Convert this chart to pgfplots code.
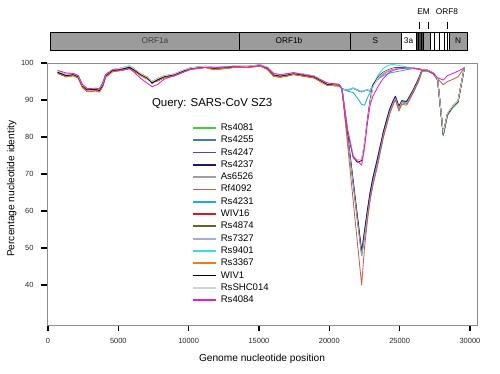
\documentclass[border=0pt]{standalone}
\usepackage{pgfplots}
\pgfplotsset{compat=1.18}
\usepackage{pgfplotstable}
\usepackage{fontspec}
\setmainfont{Liberation Sans}

\definecolor{cA}{RGB}{60,210,60}     % Rs4081
\definecolor{cB}{RGB}{70,125,165}    % Rs4255
\definecolor{cC}{RGB}{105,60,165}    % Rs4247
\definecolor{cD}{RGB}{25,25,120}     % Rs4237
\definecolor{cE}{RGB}{160,160,160}   % As6526
\definecolor{cF}{RGB}{200,95,85}     % Rf4092
\definecolor{cG}{RGB}{30,170,230}    % Rs4231
\definecolor{cH}{RGB}{215,25,25}     % WIV16
\definecolor{cI}{RGB}{95,105,45}     % Rs4874
\definecolor{cJ}{RGB}{160,175,210}   % Rs7327
\definecolor{cK}{RGB}{60,220,230}    % Rs9401
\definecolor{cL}{RGB}{240,120,30}    % Rs3367
\definecolor{cM}{RGB}{0,0,0}         % WIV1
\definecolor{cN}{RGB}{210,210,210}   % RsSHC014
\definecolor{cO}{RGB}{225,35,205}    % Rs4084
\definecolor{barGray}{RGB}{155,155,155}

\pgfplotstableread{
x e1 e2 e3 e4
700 97.5 98.0 97.2 97.8
1300 96.6 97.3 96.3 96.9
1800 96.9 97.2 96.6 97.1
2150 96.3 96.6 96.0 96.5
2450 93.8 94.2 93.4 94.0
2800 92.8 93.1 92.3 93.0
3400 92.9 93.2 92.5 93.1
3650 92.6 93.0 92.2 92.9
3880 94.0 94.6 93.6 94.3
4100 96.6 96.9 96.2 96.8
4600 98.0 98.2 97.7 98.2
5200 98.3 98.1 98.0 98.6
5800 98.8 98.5 98.5 99.2
6100 98.2 97.6 97.9 98.5
6600 96.9 95.8 96.6 97.1
7100 95.9 94.4 95.6 96.1
7400 94.6 93.6 94.9 95.0
7800 95.5 94.2 95.2 95.8
8250 96.3 95.6 96.0 96.5
8950 96.8 96.6 96.5 97.0
9650 97.9 97.6 97.6 98.1
10150 98.6 98.4 98.3 98.7
11200 99.0 98.8 98.8 99.1
11800 98.6 98.7 98.2 98.8
12500 98.8 98.9 98.5 98.9
13200 99.0 99.1 98.8 99.1
14200 99.0 98.9 98.8 99.1
15100 99.4 99.3 99.2 99.5
15600 98.6 98.7 98.3 98.8
16050 96.8 97.2 96.4 97.0
16500 96.5 96.9 96.2 96.7
17000 96.8 97.1 96.5 97.0
17450 97.2 97.4 96.9 97.3
17950 96.9 97.0 96.6 97.1
18900 96.3 96.4 96.0 96.5
19850 94.3 94.6 94.0 94.5
20300 94.2 94.4 93.9 94.3
20700 94.1 94.2 93.8 94.2
20900 93.0 93.0 93.0 93.0
}\early

\pgfplotstableread{
x C1 C2 C3 R B B2 M A A2 A3
20900 93.0 93.0 93.0 93.0 93.0 93.0 93.0 93.0 93.0 93.0
21300 80.1 80.6 79.8 77.9 81.5 82.0 82.0 92.6 92.8 92.4
21700 67.3 68.0 67.0 62.7 74.5 75.0 74.6 93.2 93.3 92.0
22000 57.6 58.5 57.3 51.3 73.2 73.8 73.5 92.6 92.8 90.5
22300 48.0 49.0 48.0 40.0 73.6 74.0 72.4 92.2 92.4 88.8
22500 53.0 54.5 52.8 50.0 78.0 78.5 77.0 92.5 92.6 88.6
22700 58.5 60.0 58.0 57.0 84.5 84.0 83.5 92.7 92.8 90.5
22900 63.5 65.0 63.0 63.0 90.0 89.5 88.6 92.4 92.6 92.0
23100 67.5 69.0 67.2 67.0 94.0 93.6 91.0 93.9 94.2 93.9
23400 72.4 73.8 72.0 71.8 95.8 95.6 93.2 95.6 96.2 95.4
23600 76.0 77.2 75.6 75.5 96.8 96.6 94.5 96.3 97.4 96.0
23850 80.5 81.5 80.2 80.0 97.5 97.4 95.9 97.0 98.6 96.6
24100 84.0 85.0 83.6 83.5 98.0 97.9 96.8 97.6 99.2 97.0
24300 86.8 87.6 86.5 86.3 98.3 98.2 97.6 98.0 99.5 97.3
24550 89.3 89.9 89.0 88.8 98.6 98.5 98.0 98.4 99.6 97.5
24700 90.5 91.0 90.2 90.0 98.7 98.6 98.2 98.6 99.5 97.6
24950 87.8 88.3 87.5 87.0 98.7 98.6 98.4 98.7 99.3 97.8
25150 89.5 89.8 89.2 88.8 98.7 98.6 98.5 98.7 99.2 97.9
25500 89.1 89.6 88.9 88.6 98.6 98.5 98.6 98.6 98.9 98.2
25950 92.2 92.6 91.9 91.8 98.6 98.5 98.6 98.6 98.6 98.5
26350 95.4 95.8 95.1 95.0 98.4 98.4 98.4 98.4 98.5 98.4
26600 98.1 98.2 97.9 97.8 98.1 98.2 98.1 98.1 98.2 98.1
27000 98.0 98.0 97.8 97.8 98.0 98.0 97.9 98.0 98.0 98.0
27400 97.2 97.3 97.0 97.0 97.2 97.3 97.2 97.2 97.3 97.2
27700 95.5 95.6 95.3 95.8 95.5 95.6 96.0 95.5 95.6 95.5
28100 80.5 80.8 80.3 94.1 80.8 81.0 95.4 80.6 80.7 80.6
28400 86.0 86.3 85.8 95.0 86.2 86.4 96.6 86.1 86.2 86.1
28800 88.2 88.4 88.0 95.6 88.4 88.5 97.2 88.3 88.4 88.3
29150 89.5 89.7 89.3 96.3 89.6 89.8 97.8 89.5 89.6 89.5
29600 98.7 98.7 98.7 98.7 98.7 98.7 98.7 98.7 98.7 98.7
}\late

\begin{document}
\begin{tikzpicture}
\path[use as bounding box] (0bp,0bp) rectangle (500bp,374bp);
% genome map
\begin{scope}[line width=0.6pt]
\fill[barGray] (50bp,324bp) rectangle (467bp,342bp);
\fill[white] (401bp,324bp) rectangle (416bp,342bp);
\fill[white] (430bp,324bp) rectangle (449bp,342bp);
\fill[black!70] (416bp,324bp) rectangle (423bp,342bp);
\draw (50bp,324bp) rectangle (467bp,342bp);
\foreach \xx in {239,350,401,416,423,430,434,439,444,447,449}{\draw (\xx bp,324bp) -- (\xx bp,342bp);}
\draw[line width=1.2pt] (418.5bp,324bp) -- (418.5bp,342bp);
\draw[line width=1.2pt] (421.5bp,324bp) -- (421.5bp,342bp);
\foreach \xx in {419,428,447}{\draw[line width=0.7pt] (\xx bp,345bp) -- (\xx bp,352bp);}
\end{scope}
\begin{scope}[font=\fontsize{8.3}{9}\selectfont]
\node[text=black!75] at (155bp,333bp) {ORF1a};
\node at (289bp,333bp) {ORF1b};
\node at (375.5bp,333bp) {S};
\node at (408.5bp,333bp) {3a};
\node at (458bp,333bp) {N};
\node at (423.5bp,362bp) {EM};
\node at (447bp,362bp) {ORF8};
\end{scope}
\begin{axis}[
  at={(47bp,49bp)}, anchor=south west, scale only axis,
  width=430bp, height=262bp,
  xmin=-70, xmax=30500, ymin=29.2, ymax=100,
  xtick={0,5000,10000,15000,20000,25000,30000},
  ytick={40,50,60,70,80,90,100},
  scaled x ticks=false,
  /pgf/number format/assume math mode=true,
  /pgf/number format/1000 sep={},
  tick align=outside, xtick pos=bottom, ytick pos=left,
  major tick length=6bp,
  tick style={black, line width=1.3pt},
  axis line style={black!45, line width=0.5pt},
  ticklabel style={font=\fontsize{7.5}{8}\selectfont, text=black!85},
  xticklabel style={yshift=-4bp},
  yticklabel style={xshift=-4bp},
  xlabel={Genome nucleotide position},
  ylabel={Percentage nucleotide identity},
  label style={font=\fontsize{10.2}{11}\selectfont},
  xlabel style={at={(axis description cs:0.5,-0.13)}, anchor=center},
  ylabel style={at={(axis description cs:-0.082,0.52)}, anchor=center},
  clip=false,
  every axis plot/.append style={line width=0.85pt, line join=round, mark=none},
  legend image code/.code={\draw[#1, line width=1.8pt] (0bp,0bp) -- (23bp,0bp); \path (27bp,0bp);},
  legend cell align=left,
  legend style={at={(rel axis cs:0.3372,0.771)}, anchor=north west, draw=none, fill=none,
    inner sep=0pt, outer sep=0pt, row sep=2.3bp,
    font=\fontsize{9.6}{10}\selectfont,
    nodes={inner sep=0.5pt, text height=7bp, text depth=2bp}},
]
\node[font=\fontsize{11.5}{12}\selectfont] at (axis description cs:0.384,0.843) {Query: SARS-CoV SZ3};

\addplot[cA, forget plot] table[y=e3]{\early};
\addplot[cA] table[y=C3]{\late}; \addlegendentry{Rs4081}
\addplot[cB, forget plot] table[y=e1]{\early};
\addplot[cB] table[y=C1]{\late}; \addlegendentry{Rs4255}
\addplot[cC, forget plot] table[y=e4]{\early};
\addplot[cC] table[y=C2]{\late}; \addlegendentry{Rs4247}
\addplot[cD, forget plot] table[y=e1]{\early};
\addplot[cD] table[y=C2]{\late}; \addlegendentry{Rs4237}
\addplot[cE, forget plot] table[y=e3]{\early};
\addplot[cE] table[y=C1]{\late}; \addlegendentry{As6526}
\addplot[cF, forget plot] table[y=e4]{\early};
\addplot[cF] table[y=R]{\late}; \addlegendentry{Rf4092}
\addplot[cG, forget plot] table[y=e1]{\early};
\addplot[cG] table[y=A3]{\late}; \addlegendentry{Rs4231}
\addplot[cH, forget plot] table[y=e3]{\early};
\addplot[cH] table[y=A]{\late}; \addlegendentry{WIV16}
\addplot[cI, forget plot] table[y=e1]{\early};
\addplot[cI] table[y=A]{\late}; \addlegendentry{Rs4874}
\addplot[cJ, forget plot] table[y=e4]{\early};
\addplot[cJ] table[y=A]{\late}; \addlegendentry{Rs7327}
\addplot[cK, forget plot] table[y=e4]{\early};
\addplot[cK] table[y=A2]{\late}; \addlegendentry{Rs9401}
\addplot[cL, forget plot] table[y=e3]{\early};
\addplot[cL] table[y=B2]{\late}; \addlegendentry{Rs3367}
\addplot[cM, forget plot] table[y=e1]{\early};
\addplot[cM] table[y=B]{\late}; \addlegendentry{WIV1}
\addplot[cN, forget plot] table[y=e4]{\early};
\addplot[cN] table[y=B2]{\late}; \addlegendentry{RsSHC014}
\addplot[cO, forget plot] table[y=e2]{\early};
\addplot[cO] table[y=M]{\late}; \addlegendentry{Rs4084}
\end{axis}
\end{tikzpicture}
\end{document}
